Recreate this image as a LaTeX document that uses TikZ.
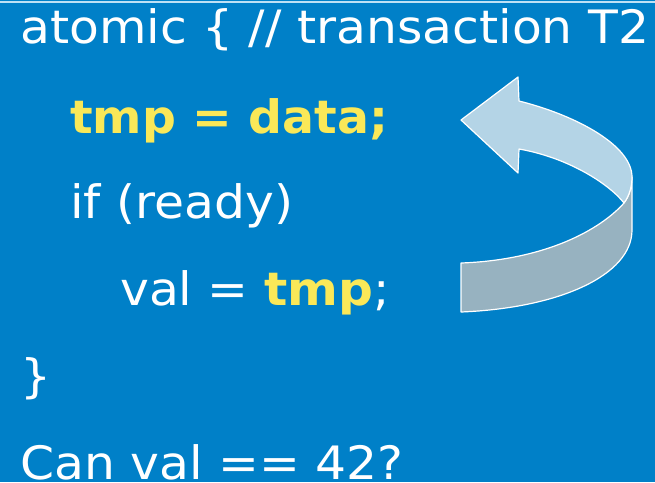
\documentclass[tikz,border=0pt]{standalone}
\usepackage{fontspec}
\setmainfont{DejaVu Sans}
\definecolor{bgblue}{RGB}{0,128,200}
\definecolor{codeyellow}{RGB}{250,232,88}
\definecolor{arrowlight}{RGB}{180,212,230}
\definecolor{arrowdark}{RGB}{151,178,192}
\definecolor{topline}{RGB}{190,225,245}
\tikzset{
  codeline/.style={anchor=base west, inner sep=0pt, text=white, xscale=1.06, font=\fontsize{46}{50}\selectfont},
  hl/.style={anchor=base west, inner sep=0pt, xscale=1.03, text=codeyellow, font=\fontsize{46}{50}\selectfont\bfseries},
  arrowpart/.style={draw=white, line width=1.2pt, line join=round}
}
\begin{document}
\begin{tikzpicture}[x=1pt,y=-1pt]
\fill[bgblue] (0,0) rectangle (655,482);
\useasboundingbox (0,0) rectangle (655,482);
\draw[topline, line width=1.2pt] (0,2) -- (655,2);
\node[codeline] (l1) at (20,43) {atomic \{ // transaction T2};
\node[hl] (l2) at (70,133) {tmp = data;};
\node[codeline] (l3) at (70,218) {if (ready)};
\node[codeline] (l4) at (120,305) {val = \textcolor{codeyellow}{\bfseries tmp};};
\node[codeline] (l5) at (20,392) {\}};
\node[codeline] (l6) at (20,479) {Can val == 42?};
% dark lower band
\filldraw[arrowpart, fill=arrowdark]
  (461,263) .. controls (545,260) and (600,230) .. (624,203)
  .. controls (630,195) and (632,185) .. (632,177)
  -- (632,230)
  .. controls (632,275) and (560,308) .. (461,312) -- cycle;
% light upper band with head
\filldraw[arrowpart, fill=arrowlight]
  (461,120) -- (518,77) -- (519,101)
  .. controls (575,115) and (632,145) .. (632,177)
  .. controls (632,185) and (630,195) .. (624,203)
  .. controls (610,185) and (570,158) .. (519,149)
  -- (518,173) -- cycle;
\end{tikzpicture}
\end{document}
